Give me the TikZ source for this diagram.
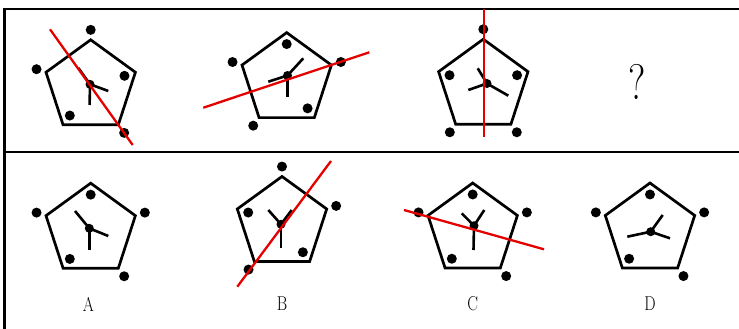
\documentclass[tikz,border=0pt]{standalone}
\usepackage{graphicx}
\usepackage{tikz}
\usetikzlibrary{shapes.geometric, calc}

\begin{document}
\begin{tikzpicture}[
      x=1pt, y=-1pt,
      pent/.style={draw, regular polygon, regular polygon sides=5,
      minimum size=94pt, inner sep=0pt, line width=2.7pt},
      dot/.style={circle, fill, inner sep=0pt, minimum size=10pt},
      hub/.style={circle, fill, inner sep=0pt, minimum size=9pt},
      spoke/.style={line width=2.6pt},
      cut/.style={red!90!black, line width=2.3pt},
      frame/.style={line width=2.2pt},
      lbl/.style={font=\fontsize{20}{20}\selectfont}
    ]
    \useasboundingbox (0,0) rectangle (739,329);
    \draw[frame] (4.5,329) |- (739,9);
    \draw[frame] (4.5,152) -- (739,152);

    \node[pent] (p1) at (90.7,86.8) {};
    \foreach \c/\f in {1/1.17,2/1.17,3/0.73,4/1.17,5/0.73}
      \node[dot] (p1-\c) at ($(p1.center)!\f!(p1.corner \c)$) {};
    \node[hub] (h1) at (90,84.3) {};
    \draw[spoke] (h1.center) -- (89.6,105);
    \draw[spoke] (h1.center) -- (108.3,91);
    \draw[spoke] (h1.center) -- (78.4,68);
    \draw[cut] (50,29.3) -- (132.7,145);

    \node[pent] (p2) at (286.7,79.6) {};
    \foreach \c/\f in {1/0.73,2/1.17,3/1.17,4/0.73,5/1.17}
      \node[dot] (p2-\c) at ($(p2.center)!\f!(p2.corner \c)$) {};
    \node[hub] (h2) at (287.5,75.5) {};
    \draw[spoke] (h2.center) -- (287.5,96.7);
    \draw[spoke] (h2.center) -- (303.3,58.3);
    \draw[spoke] (h2.center) -- (268.3,81.7);
    \draw[cut] (203.3,107.7) -- (369.3,52.3);

    \node[pent] (p3) at (483.3,86.2) {};
    \foreach \c/\f in {1/1.17,2/0.73,3/1.17,4/1.17,5/0.73}
      \node[dot] (p3-\c) at ($(p3.center)!\f!(p3.corner \c)$) {};
    \node[hub] (h3) at (487,83.5) {};
    \draw[spoke] (h3.center) -- (477.7,68.3);
    \draw[spoke] (h3.center) -- (468.3,90);
    \draw[spoke] (h3.center) -- (508.3,95.7);
    \draw[cut] (484.3,9) -- (484.3,137.3);

    \node[font=\fontsize{50}{50}\selectfont] (q) at (636.7,81.5)
    {\scalebox{0.8}[1]{?}};

    \node[pent] (pa) at (90.7,230.2) {};
    \foreach \c/\f in {1/0.73,2/1.17,3/0.73,4/1.17,5/1.17}
      \node[dot] (pa-\c) at ($(pa.center)!\f!(pa.corner \c)$) {};
    \node[hub] (ha) at (89.3,228.3) {};
    \draw[spoke] (ha.center) -- (75,211);
    \draw[spoke] (ha.center) -- (89.3,250);
    \draw[spoke] (ha.center) -- (108.3,236);
    \node[lbl] (la) at (88.3,304) {\scalebox{0.8}[1]{A}};

    \node[pent] (pb) at (282,223.5) {};
    \foreach \c/\f in {1/1.17,2/0.73,3/1.17,4/0.73,5/1.17}
      \node[dot] (pb-\c) at ($(pb.center)!\f!(pb.corner \c)$) {};
    \node[hub] (hb) at (281,224.3) {};
    \draw[spoke] (hb.center) -- (268.3,210);
    \draw[spoke] (hb.center) -- (291.7,210);
    \draw[spoke] (hb.center) -- (281,248.3);
    \draw[cut] (237.3,286.7) -- (331,161);
    \node[lbl] (lb) at (282,304) {\scalebox{0.8}[1]{B}};

    \node[pent] (pc) at (472.7,230) {};
    \foreach \c/\f in {1/0.73,2/1.17,3/0.73,4/1.17,5/1.17}
      \node[dot] (pc-\c) at ($(pc.center)!\f!(pc.corner \c)$) {};
    \node[hub] (hc) at (474,225.7) {};
    \draw[spoke] (hc.center) -- (461.7,213.3);
    \draw[spoke] (hc.center) -- (484.3,210);
    \draw[spoke] (hc.center) -- (473.5,250);
    \draw[cut] (404,210) -- (544,249.3);
    \node[lbl] (lc) at (472.7,304) {\scalebox{0.8}[1]{C}};

    \node[pent] (pd) at (650,230) {};
    \foreach \c/\f in {1/0.73,2/1.17,3/0.73,4/1.17,5/1.17}
      \node[dot] (pd-\c) at ($(pd.center)!\f!(pd.corner \c)$) {};
    \node[hub] (hd) at (650.7,231.7) {};
    \draw[spoke] (hd.center) -- (662.7,215);
    \draw[spoke] (hd.center) -- (627.3,236.7);
    \draw[spoke] (hd.center) -- (670,238.3);
    \node[lbl] (ld) at (650,304) {\scalebox{0.8}[1]{D}};
  \end{tikzpicture}
\end{document}
